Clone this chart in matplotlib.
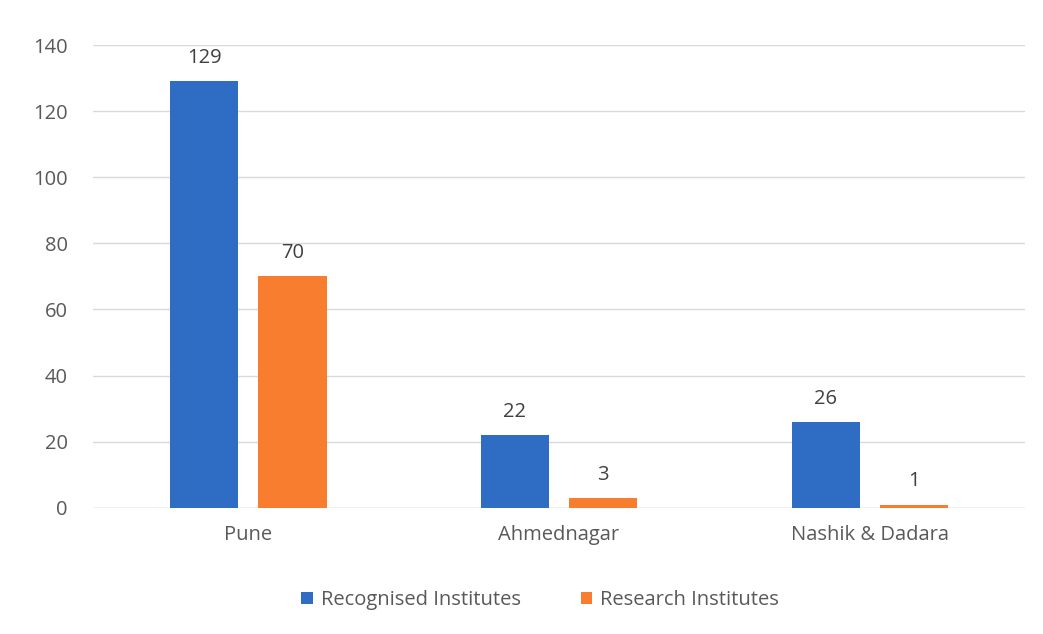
import matplotlib
matplotlib.use("Agg")
import matplotlib.pyplot as plt
import numpy as np

categories = ["Pune", "Ahmednagar", "Nashik & Dadara"]
recognised = [129, 22, 26]
research = [70, 3, 1]
yticks = [0, 20, 40, 60, 80, 100, 120, 140]

BLUE = "#2F6CC4"
ORANGE = "#F97D2E"
TEXT = "#595959"
FS = 14.5

plt.rcParams["font.family"] = ["Open Sans", "DejaVu Sans"]

fig = plt.figure(figsize=(10.43, 6.34), dpi=100)
ax = fig.add_axes([0.089, 0.199, 0.894, 0.73])

x = np.arange(len(categories))
w = 0.22
gap = 0.064
off = (w + gap) / 2
b1 = ax.bar(x - off, recognised, w, color=BLUE, label="Recognised Institutes", zorder=3)
b2 = ax.bar(x + off, research, w, color=ORANGE, label="Research Institutes", zorder=3)

for bars, vals in ((b1, recognised), (b2, research)):
    for bar, v in zip(bars, vals):
        ax.text(bar.get_x() + bar.get_width() / 2, v + 4, str(v),
                ha="center", va="bottom", fontsize=FS, color="#404040")

ax.set_xlim(-0.5, len(categories) - 0.5)
ax.set_ylim(0, 140)
ax.set_yticks(yticks)
ax.set_xticks(x)
ax.set_xticklabels(categories)
ax.tick_params(axis="both", length=0, labelsize=FS, labelcolor=TEXT)
ax.tick_params(axis="x", pad=12)
ax.tick_params(axis="y", pad=18)
ax.grid(axis="y", color="#D9D9D9", linewidth=1, zorder=0)
for s in ax.spines.values():
    s.set_visible(False)
ax.axhline(0, color="#D9D9D9", linewidth=1, zorder=1)

fig.legend(loc="center", bbox_to_anchor=(0.518, 0.053), ncol=2, frameon=False,
           fontsize=FS, handlelength=0.55, handleheight=0.55, columnspacing=3.0,
           handletextpad=0.4, labelcolor=TEXT)

fig.savefig("out.png", dpi=100, facecolor="white")
